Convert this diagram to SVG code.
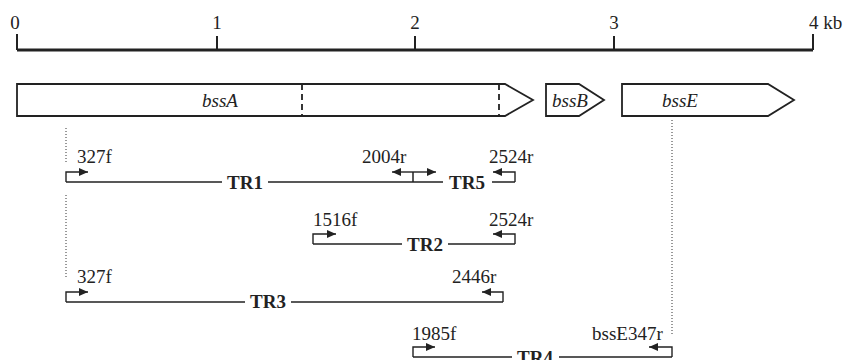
<svg xmlns="http://www.w3.org/2000/svg" width="844" height="360" viewBox="0 0 844 360">
<defs>
<marker id="ah" markerUnits="userSpaceOnUse" markerWidth="9" markerHeight="8" refX="9" refY="4" orient="auto">
<path d="M0,0 L9,4 L0,8 z" fill="#222"/>
</marker>
<style>
text{font-family:"Liberation Serif","Times New Roman",serif;font-size:19px;fill:#222}
.it{font-style:italic}
.b{font-weight:bold}
.m{text-anchor:middle}
.e{text-anchor:end}
.ln{fill:none;stroke:#222;stroke-width:1.5}
.pr{fill:none;stroke:#222;stroke-width:1.4;marker-end:url(#ah)}
.gene{fill:#fff;stroke:#222;stroke-width:1.8}
.dash{stroke:#222;stroke-width:1.8;stroke-dasharray:6,4}
.dot{stroke:#333;stroke-width:1;stroke-dasharray:1,2}
</style>
</defs>
<rect width="844" height="360" fill="#fff"/>
<g id="scale">
<line x1="17" y1="50" x2="813" y2="50" stroke="#222" stroke-width="3"/>
<g stroke="#222" stroke-width="2">
<line x1="17" y1="34" x2="17" y2="50"/>
<line x1="217" y1="36" x2="217" y2="50"/>
<line x1="415" y1="36" x2="415" y2="50"/>
<line x1="614" y1="36" x2="614" y2="50"/>
<line x1="813" y1="34" x2="813" y2="50"/>
</g>
<text x="15" y="29" class="m">0</text>
<text x="217" y="29" class="m">1</text>
<text x="415" y="29" class="m">2</text>
<text x="614" y="29" class="m">3</text>
<text x="809" y="29">4 kb</text>
</g>
<g id="bssA">
<polygon class="gene" points="17,84 505,84 533,100 505,116 17,116"/>
<line class="dash" x1="302" y1="84" x2="302" y2="116"/>
<line class="dash" x1="499" y1="84" x2="499" y2="116"/>
<text x="202" y="107" class="it">bssA</text>
</g>
<g id="bssB">
<polygon class="gene" points="546,84 579,84 604,100 579,116 546,116"/>
<text x="552" y="107" class="it">bssB</text>
</g>
<g id="bssE">
<polygon class="gene" points="622,84 768,84 794,100 768,116 622,116"/>
<text x="662" y="107" class="it">bssE</text>
</g>
<g id="guides">
<line class="dot" x1="66" y1="128" x2="66" y2="163"/>
<line class="dot" x1="66" y1="195" x2="66" y2="279"/>
<line class="dot" x1="672" y1="120" x2="672" y2="336"/>
</g>
<g id="connectors">
<path class="ln" d="M66,182 H222 M268,182 H413 H443 M492,182 H515"/>
<path class="ln" d="M413,172 V182"/>
<path class="ln" d="M313,244 H402 M448,244 H515"/>
<path class="ln" d="M66,302 H245 M291,302 H503"/>
<path class="ln" d="M413,357 H512 M559,357 H672"/>
</g>
<g id="TR1">
<path class="pr" d="M66,182 V172 H88"/>
<text x="77" y="163">327f</text>
<path class="pr" d="M413,172 H392"/>
<path class="pr" d="M413,172 H436"/>
<text x="362" y="163">2004r</text>
<text x="245" y="189" class="b m">TR1</text>
</g>
<g id="TR5">
<path class="pr" d="M515,182 V172 H493"/>
<text x="489" y="163">2524r</text>
<text x="467" y="189" class="b m">TR5</text>
</g>
<g id="TR2">
<path class="pr" d="M313,244 V234 H336"/>
<text x="313" y="226">1516f</text>
<path class="pr" d="M515,244 V234 H493"/>
<text x="489" y="226">2524r</text>
<text x="425" y="251" class="b m">TR2</text>
</g>
<g id="TR3">
<path class="pr" d="M66,302 V292 H88"/>
<text x="77" y="283">327f</text>
<path class="pr" d="M503,302 V292 H482"/>
<text x="452" y="283">2446r</text>
<text x="268" y="308" class="b m">TR3</text>
</g>
<g id="TR4">
<path class="pr" d="M413,357 V347 H435"/>
<text x="412" y="340">1985f</text>
<path class="pr" d="M672,357 V347 H649"/>
<text x="592" y="340">bssE347r</text>
<text x="535" y="364" class="b m">TR4</text>
</g>
</svg>
